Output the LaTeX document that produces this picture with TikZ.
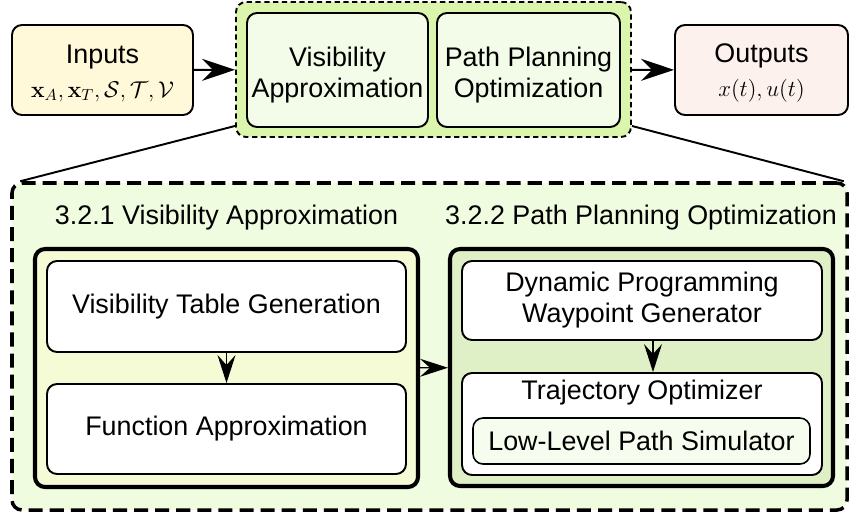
\RequirePackage{fix-cm}
\documentclass[tikz,border=0pt]{standalone}
\usepackage[no-math]{fontspec}
\setmainfont{Liberation Sans}
\usetikzlibrary{arrows.meta}
\definecolor{inbg}{HTML}{FFF9DA}
\definecolor{outbg}{HTML}{FDF1EE}
\definecolor{groupbg}{HTML}{DCF5AC}
\definecolor{topbg}{HTML}{F3FCE8}
\definecolor{detailbg}{HTML}{F0FCE0}
\definecolor{visbg}{HTML}{F5FBD5}
\definecolor{pathbg}{HTML}{E0F0C6}
\definecolor{simbg}{HTML}{F6FCEE}

\begin{document}
\begin{tikzpicture}[
  font=\fontsize{15.3}{17.6}\selectfont,
  iobox/.style={rectangle, draw=black, line width=1.1pt, rounded corners=5.7pt, minimum width=3.5cm, minimum height=1.8cm, inner sep=0pt, align=center},
  stagebox/.style={rectangle, draw=black, fill=topbg, line width=1.1pt, rounded corners=5.7pt, minimum height=2.28cm, inner sep=0pt, align=center},
  groupbox/.style={rectangle, draw=black, fill=groupbg, line width=1.1pt, dash pattern=on 3pt off 2pt, rounded corners=5.7pt, inner sep=0pt},
  detailbox/.style={rectangle, draw=black, fill=detailbg, line width=2pt, dash pattern=on 8pt off 4pt, rounded corners=5.7pt, inner sep=0pt},
  modulebox/.style={rectangle, draw=black, line width=2.3pt, rounded corners=5.7pt, minimum width=7.66cm, inner sep=0pt},
  stepbox/.style={rectangle, draw=black, fill=white, line width=1.1pt, rounded corners=5.7pt, minimum width=7.2cm, inner sep=0pt, align=center},
  bigarrow/.style={-{Stealth[length=0.66cm, width=0.44cm, inset=0.22cm]}, line width=1.1pt},
  smallarrow/.style={-{Stealth[length=0.56cm, width=0.36cm, inset=0.2cm]}, line width=0.7pt}
]
  \useasboundingbox (0,0) rectangle (16.98,-10.24);
  % top row
  \node[iobox, fill=inbg, minimum width=3.62cm] (inputs) at (2.05,-1.40) {\rule{0pt}{0.5cm}Inputs\\[2pt]{\fontsize{13}{16}\selectfont $\mathbf{x}_A, \mathbf{x}_T, \mathcal{S}, \mathcal{T}, \mathcal{V}$}};
  \node[groupbox, minimum width=7.9cm, minimum height=2.7cm] (group) at (8.67,-1.39) {};
  \node[stagebox, minimum width=3.62cm] (visstage) at (6.75,-1.40) {\rule{0pt}{0.58cm}Visibility\\Approximation};
  \node[stagebox, minimum width=3.66cm] (pathstage) at (10.57,-1.40) {\rule{0pt}{0.58cm}Path Planning\\Optimization};
  \node[iobox, fill=outbg, minimum width=3.46cm] (outputs) at (15.23,-1.40) {\rule{0pt}{0.5cm}Outputs\\[2pt]{\fontsize{13}{16}\selectfont $x(t), u(t)$}};
  \draw[bigarrow] (inputs) -- (group);
  \draw[bigarrow] (group) -- (outputs);

  % detail view
  \node[detailbox, minimum width=16.7cm, minimum height=6.54cm] (detail) at (8.59,-6.93) {};
  \draw[line width=1.1pt] ([yshift=0.24cm]group.south west) -- ([xshift=0.2cm]detail.north west);
  \draw[line width=1.1pt] ([yshift=0.24cm]group.south east) -- ([xshift=-0.1cm]detail.north east);
  \node (vistitle) at (4.53,-4.36) {3.2.1 Visibility Approximation};
  \node (pathtitle) at (12.82,-4.36) {3.2.2 Path Planning Optimization};

  \node[modulebox, fill=visbg, minimum height=4.76cm] (vismod) at (4.53,-7.36) {};
  \node[modulebox, fill=pathbg, minimum height=4.74cm] (pathmod) at (12.83,-7.35) {};

  \node[stepbox, minimum width=7.18cm, minimum height=1.82cm] (table) at (4.53,-6.13) {Visibility Table Generation};
  \node[stepbox, minimum width=7.18cm, minimum height=1.80cm] (approx) at (4.53,-8.58) {Function Approximation};
  \node[stepbox, minimum height=1.58cm] (waypoint) at (12.84,-6.01) {Dynamic Programming\\Waypoint Generator};
  \node[stepbox, minimum height=2.04cm] (trajopt) at (12.84,-8.48) {};
  \node (trajtitle) at (12.84,-7.86) {Trajectory Optimizer};
  \node[stepbox, fill=simbg, line width=0.9pt, minimum width=6.74cm, minimum height=0.92cm] (sim) at (12.83,-8.82) {Low-Level Path Simulator};

  \draw[smallarrow] (table) -- (approx);
  \draw[smallarrow] ([xshift=0.22cm]waypoint.south) -- ([xshift=0.22cm]trajopt.north);
  \draw[smallarrow] (vismod) -- (pathmod);
\end{tikzpicture}
\end{document}
